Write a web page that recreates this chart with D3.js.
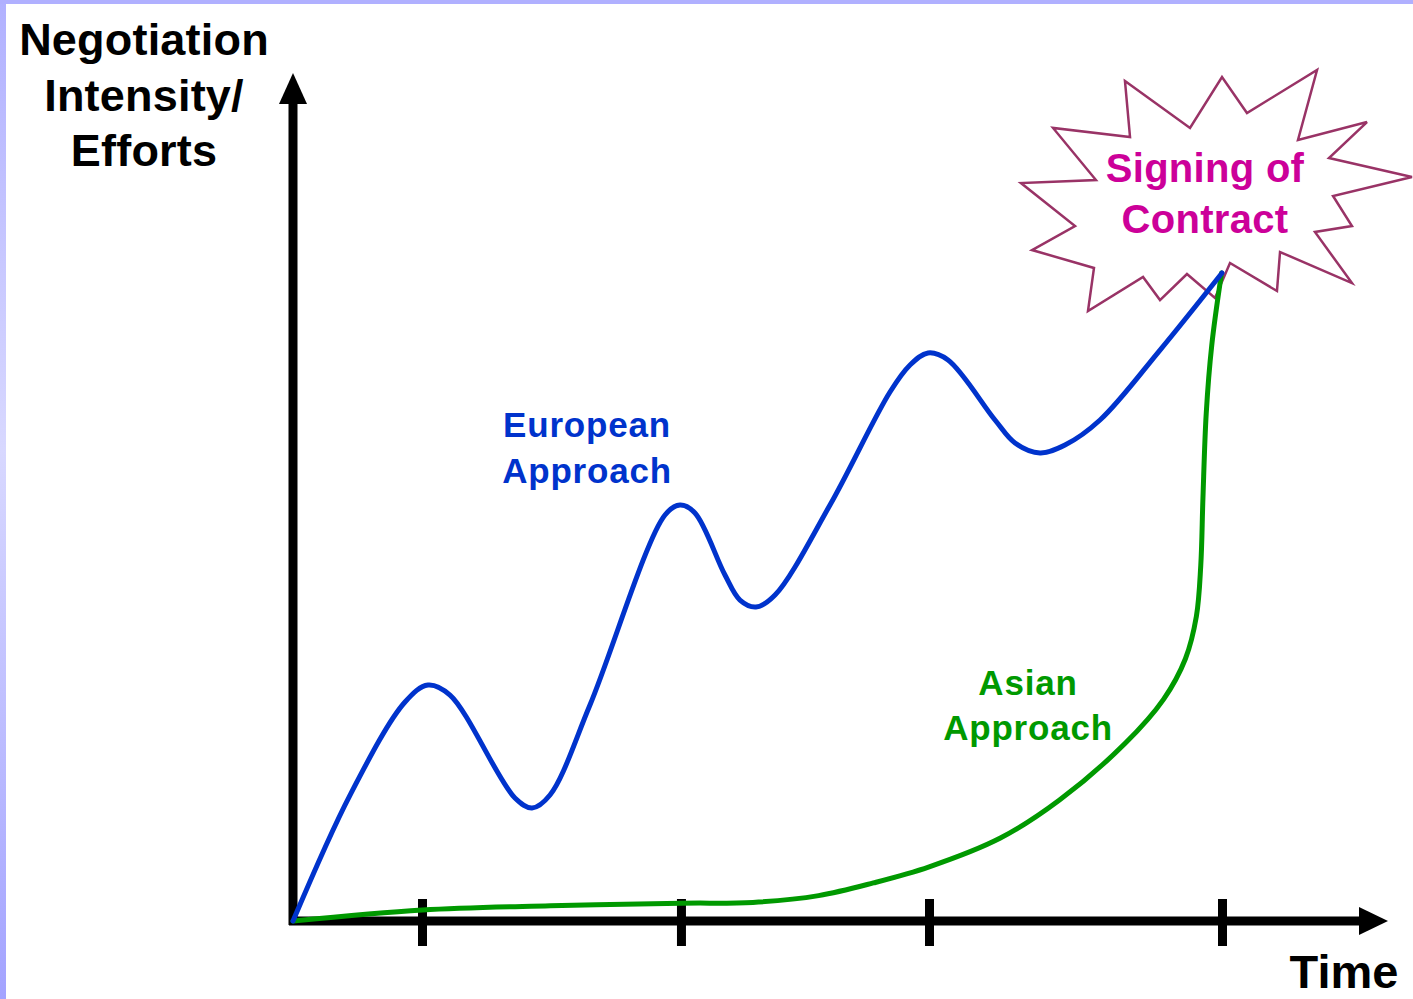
<!DOCTYPE html>
<html><head><meta charset="utf-8">
<script src="https://cdn.jsdelivr.net/npm/d3@7"></script>
<style>
html,body{margin:0;padding:0;background:#fff;overflow:hidden}
svg{display:block}
text{font-family:"Liberation Sans",Arial,sans-serif;font-weight:bold}
</style></head>
<body>
<svg id="c" width="1413" height="999"></svg>
<script>
// ---- data (time units vs. intensity units) ----
const tickValues = [1.178, 3.543, 5.808, 8.484];

const europeanX = [0, 0.521, 1.023, 1.233, 1.434, 2.027, 2.183, 2.347, 2.712, 3.397, 3.534, 3.671, 3.945, 4.082, 4.228, 4.402, 4.904, 5.452, 5.635, 5.799, 5.982, 6.411, 6.594, 6.822, 7.050, 7.370, 7.918, 8.484];
const europeanY = [0, 1.489, 2.589, 2.790, 2.671, 1.454, 1.336, 1.489, 2.553, 4.799, 4.917, 4.823, 4.090, 3.794, 3.712, 3.853, 4.917, 6.253, 6.572, 6.714, 6.631, 5.922, 5.650, 5.532, 5.626, 5.922, 6.749, 7.660];

const asianX = [0, 1.18, 2.35, 3.54, 4.20, 4.80, 5.30, 5.81, 6.46, 7.00, 7.60, 7.95, 8.15, 8.25, 8.29, 8.31, 8.34, 8.39, 8.48];
const asianY = [0, 0.13, 0.18, 0.21, 0.22, 0.30, 0.45, 0.64, 0.98, 1.43, 2.10, 2.62, 3.10, 3.60, 4.20, 5.00, 6.00, 6.80, 7.66];

const burstX = [7.598, 8.192, 8.484, 8.712, 9.352, 9.178, 9.808, 9.461, 10.219, 9.498, 9.671, 9.333, 9.671, 9.014, 8.986, 8.557, 8.420, 8.164, 7.918, 7.763, 7.260, 7.315, 6.749, 7.142, 6.648, 7.333, 6.941, 7.644];
const burstY = [9.929, 9.374, 9.976, 9.551, 10.059, 9.232, 9.444, 9.019, 8.794, 8.570, 8.215, 8.144, 7.541, 7.908, 7.447, 7.778, 7.364, 7.648, 7.340, 7.612, 7.210, 7.719, 7.931, 8.215, 8.723, 8.759, 9.374, 9.267];

const yTitleLines = ["Negotiation", "Intensity/", "Efforts"];
const xTitle = "Time";
const europeanLabel = ["European", "Approach"];
const asianLabel = ["Asian", "Approach"];
const burstLabel = ["Signing of", "Contract"];

// ---- drawing ----
const svg = d3.select("#c");
const x = d3.scaleLinear().domain([0, 10]).range([293, 1388]);
const y = d3.scaleLinear().domain([0, 10]).range([921, 75]);

// background border gradient
const defs = svg.append("defs");
const g1 = defs.append("linearGradient").attr("id", "lb").attr("x1", 0).attr("x2", 0).attr("y1", 0).attr("y2", 1);
g1.append("stop").attr("offset", "0%").attr("stop-color", "#b1b1ff");
g1.append("stop").attr("offset", "45%").attr("stop-color", "#d8d8ff");
g1.append("stop").attr("offset", "100%").attr("stop-color", "#a3a3ff");
svg.append("rect").attr("x", 0).attr("y", 0).attr("width", 6).attr("height", 999).attr("fill", "url(#lb)");
svg.append("rect").attr("x", 0).attr("y", 0).attr("width", 1413).attr("height", 4).attr("fill", "#b0b0ff");

// starburst
const burstPts = burstX.map((d, i) => [x(d), y(burstY[i])]);
svg.append("path")
  .attr("d", d3.line()(burstPts) + "Z")
  .attr("fill", "#fff").attr("stroke", "#993366").attr("stroke-width", 2.5)
  .attr("stroke-linejoin", "miter");

// axes
const ax = svg.append("g");
ax.append("line").attr("x1", x(0)).attr("x2", x(0)).attr("y1", y(0) + 4).attr("y2", 100)
  .attr("stroke", "#000").attr("stroke-width", 9);
ax.append("path").attr("d", d3.line()([[x(0), 73], [x(0) - 14, 104], [x(0) + 14, 104]]) + "Z").attr("fill", "#000");
ax.append("line").attr("x1", x(0) - 4).attr("x2", 1362).attr("y1", y(0)).attr("y2", y(0))
  .attr("stroke", "#000").attr("stroke-width", 9);
ax.append("path").attr("d", d3.line()([[1388, y(0)], [1359, y(0) - 14], [1359, y(0) + 14]]) + "Z").attr("fill", "#000");

const xAxis = d3.axisBottom(x).tickValues(tickValues).tickFormat("").tickSizeOuter(0);
const xa = svg.append("g").attr("transform", `translate(0,${y(0)})`).call(xAxis);
xa.select(".domain").remove();
xa.selectAll(".tick line").attr("y1", -22).attr("y2", 25).attr("stroke", "#000").attr("stroke-width", 9);

// curves
const blueLine = d3.line().x(d => x(d[0])).y(d => y(d[1])).curve(d3.curveCatmullRom.alpha(0.5));
const greenLine = d3.line().x(d => x(d[0])).y(d => y(d[1])).curve(d3.curveCatmullRom.alpha(0.5));
svg.append("path").datum(asianX.map((d, i) => [d, asianY[i]]))
  .attr("d", greenLine).attr("fill", "none").attr("stroke", "#009900").attr("stroke-width", 5).attr("stroke-linecap", "round");
svg.append("path").datum(europeanX.map((d, i) => [d, europeanY[i]]))
  .attr("d", blueLine).attr("fill", "none").attr("stroke", "#0033cc").attr("stroke-width", 5).attr("stroke-linecap", "round");

// labels
function multiline(lines, cx, baseline, gap, size, color, ls) {
  const t = svg.append("text").attr("text-anchor", "middle").attr("font-size", size).attr("fill", color)
    .attr("letter-spacing", ls || 0);
  lines.forEach((l, i) => t.append("tspan").attr("x", cx).attr("y", baseline + i * gap).text(l));
}
multiline(yTitleLines, 144, 55, 55.5, 45, "#000", 0.2);
multiline([xTitle], 1344, 988, 0, 47, "#000", 0);
multiline(europeanLabel, 587, 437, 46, 35, "#0033cc", 0.8);
multiline(asianLabel, 1028, 695, 45, 35, "#009900", 0.8);
multiline(burstLabel, 1205, 182, 51, 40, "#cc0099", 0.3);
</script>
</body></html>
